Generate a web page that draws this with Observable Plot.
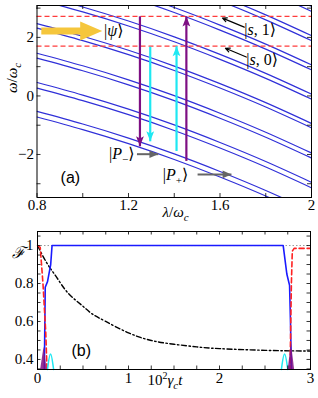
<!DOCTYPE html>
<html><head><meta charset="utf-8">
<script src="https://cdn.jsdelivr.net/npm/d3@7"></script>
<script src="https://cdn.jsdelivr.net/npm/@observablehq/plot@0.6"></script>
<style>
body{margin:0;background:#fff;}
#c{position:relative;width:318px;height:398px;overflow:hidden;}
#c svg{position:absolute;left:0;}
</style></head><body><div id="c"></div>
<script>
// ---------- Panel (a) data ----------
const lam = [0.8, 1.0, 1.2, 1.4, 1.6, 1.8, 2.0];
const upperLevels = [
  [-0.53, -0.96, -1.44, -1.98, -2.58, -3.23, -3.94],
  [0.46, 0.03, -0.45, -0.99, -1.59, -2.24, -2.95],
  [1.46, 1.03, 0.55, 0.01, -0.59, -1.24, -1.95],
  [2.47, 2.04, 1.56, 1.02, 0.42, -0.23, -0.94],
  [3.47, 3.04, 2.56, 2.02, 1.42, 0.77, 0.06],
  [4.47, 4.04, 3.56, 3.02, 2.42, 1.77, 1.06],
  [5.47, 5.04, 4.56, 4.02, 3.42, 2.77, 2.06],
  [6.47, 6.04, 5.56, 5.02, 4.42, 3.77, 3.06]
];
const lowerLevels = [
  [-0.72, -1.15, -1.63, -2.17, -2.77, -3.42, -4.13],
  [0.27, -0.16, -0.64, -1.18, -1.78, -2.43, -3.14],
  [1.29, 0.86, 0.38, -0.16, -0.76, -1.41, -2.12],
  [2.32, 1.89, 1.41, 0.87, 0.27, -0.38, -1.09],
  [3.30, 2.87, 2.39, 1.85, 1.25, 0.60, -0.11],
  [4.30, 3.87, 3.39, 2.85, 2.25, 1.60, 0.89],
  [5.30, 4.87, 4.39, 3.85, 3.25, 2.60, 1.89],
  [6.30, 5.87, 5.39, 4.85, 4.25, 3.60, 2.89]
];
const stateEnergies = [2.72, 1.70];          // |s,1>, |s,0>
const purpleArrows = [ {lam: 1.25, from: 2.72, to: -1.72}, {lam: 1.453, from: -2.22, to: 2.72} ];
const cyanArrows   = [ {lam: 1.295, from: 1.68, to: -1.55}, {lam: 1.41, from: -1.88, to: 1.70} ];
const grayArrows   = [ {from: 1.237, to: 1.33, E: -1.99}, {from: 1.502, to: 1.65, E: -2.68} ];
const blackArrows  = [ {x1: 1.706, y1: 2.35, x2: 1.611, y2: 2.66}, {x1: 1.715, y1: 1.33, x2: 1.624, y2: 1.63} ];
const yellowArrow  = [ {from: 0.88, to: 1.085, E: 2.22} ];
const kets = [
  {key: "§psi", lam: 1.093, E: 2.22, anchor: "start"},
  {key: "§s1", lam: 1.706, E: 2.25, anchor: "start"},
  {key: "§s0", lam: 1.715, E: 1.22, anchor: "start"},
  {key: "§pm", lam: 1.226, E: -1.99, anchor: "end"},
  {key: "§pp", lam: 1.35, E: -2.71, anchor: "start"}
];
const xTicksA = [0.8, 1.0, 1.2, 1.4, 1.6, 1.8, 2.0];
const xLabelsA = [0.8, 1.2, 1.6, 2];
const yTicksA = [-3, -2, -1, 0, 1, 2, 3];
const yLabelsA = [-2, 0, 2];

// ---------- Panel (b) data ----------
const tBlack = [0, 0.1, 0.2, 0.3, 0.4, 0.5, 0.6, 0.75, 1.0, 1.25, 1.5, 1.75, 2.0, 2.5, 3.0];
const fBlack = [1.0, 0.91, 0.84, 0.77, 0.72, 0.68, 0.64, 0.60, 0.54, 0.50, 0.48, 0.466, 0.457, 0.448, 0.444];
const tBlue = [0.075, 0.085, 0.11, 0.145, 0.16, 2.70, 2.74, 2.77, 2.78, 2.79];
const fBlue = [0.34, 0.78, 0.81, 0.90, 1.0, 1.0, 0.85, 0.79, 0.60, 0.34];
const tRedL = [0.0, 0.03, 0.06, 0.09, 0.105];
const fRedL = [1.0, 0.99, 0.80, 0.55, 0.34];
const tRedR = [2.775, 2.79, 2.80, 2.82, 3.0];
const fRedR = [0.34, 0.80, 0.97, 0.985, 0.985];
const tCyanL = [0.11, 0.143, 0.177], fCyanL = [0.347, 0.47, 0.347];
const tCyanR = [2.68, 2.715, 2.75],  fCyanR = [0.347, 0.47, 0.347];
const tPurL = [0.035, 0.072, 0.105], fPurL = [0.347, 0.465, 0.347];
const tPurR = [2.755, 2.79, 2.825],  fPurR = [0.347, 0.485, 0.347];
const xTicksB = d3.range(0, 3.001, 0.25);
const xLabelsB = [0, 1, 2, 3];
const yTicksB = d3.range(0.35, 1.0501, 0.05);
const yLabelsB = [0.4, 0.6, 0.8, 1];

// ---------- helpers ----------
const serif = "'Liberation Serif','DejaVu Serif',serif";
const fmt = d => String(d).replace("-", "\u2212");
const stealth = {draw(ctx, size){ const r = Math.sqrt(size/Math.PI); const L = 2.2*r, w = 0.85*r;
  ctx.moveTo(0,0); ctx.lineTo(-w, L); ctx.lineTo(0, 0.78*L); ctx.lineTo(w, L); ctx.closePath(); }};
const tri = {draw(ctx, size){ const r = Math.sqrt(size/Math.PI); const L = 2.2*r, w = 0.95*r;
  ctx.moveTo(0,0); ctx.lineTo(-w, L); ctx.lineTo(w, L); ctx.closePath(); }};
function frameTicks(xt, yt, fw, fh, len){
  return [
    Plot.tickX(xt, {x: d=>d, insetTop: fh-len, stroke:"#000", strokeWidth:0.8}),
    Plot.tickX(xt, {x: d=>d, insetBottom: fh-len, stroke:"#000", strokeWidth:0.8}),
    Plot.tickY(yt, {y: d=>d, insetRight: fw-len, stroke:"#000", strokeWidth:0.8}),
    Plot.tickY(yt, {y: d=>d, insetLeft: fw-len, stroke:"#000", strokeWidth:0.8}),
    Plot.frame({stroke:"#000", strokeWidth:1})
  ];
}
const rich = {
  "§psi": '|<tspan font-style="italic">ψ</tspan>⟩',
  "§s1": '|<tspan font-style="italic">s</tspan>, 1⟩',
  "§s0": '|<tspan font-style="italic">s</tspan>, 0⟩',
  "§pm": '|<tspan font-style="italic">P</tspan><tspan font-size="11" dy="4">−</tspan><tspan dy="-4">⟩</tspan>',
  "§pp": '|<tspan font-style="italic">P</tspan><tspan font-size="11" dy="4">+</tspan><tspan dy="-4">⟩</tspan>',
  "§xlab": '<tspan font-style="italic">λ</tspan>/<tspan font-style="italic">ω</tspan><tspan font-size="11" dy="4" font-style="italic">c</tspan>',
  "§ylab": '<tspan font-style="italic">ω</tspan>/<tspan font-style="italic">ω</tspan><tspan font-size="11" dy="4" font-style="italic">c</tspan>',
  "§tlab": '10<tspan font-size="10" dy="-6">2</tspan><tspan dy="6" font-style="italic">γ</tspan><tspan font-size="11" dy="4" font-style="italic">c</tspan><tspan dy="-4" font-style="italic">t</tspan>',
  "§F": '<tspan font-style="italic">ℱ</tspan>'
};
function enrich(svg){
  d3.select(svg).selectAll("text").each(function(){ const k = this.textContent; if (rich[k]) this.innerHTML = rich[k]; });
}

// ---------- Panel (a) ----------
const levelRows = [...upperLevels, ...lowerLevels].flatMap((vals, i) => vals.map((E, j) => ({lam: lam[j], E, id: i})));
const HA = 224, mA = {l: 36.5, r: 7, t: 5, b: 27};
const fwA = 318 - mA.l - mA.r, fhA = HA - mA.t - mA.b;
const plotA = Plot.plot({
  width: 318, height: HA, marginLeft: mA.l, marginRight: mA.r, marginTop: mA.t, marginBottom: mA.b,
  x: {domain: [0.8, 2.0], axis: null}, y: {domain: [-3.47, 3.09], axis: null},
  style: {fontFamily: serif, fontSize: "15px", background: "white", overflow: "visible"},
  marks: [
    Plot.line(levelRows, {x: "lam", y: "E", z: "id", stroke: "#3030d8", strokeWidth: 1.2, curve: "natural", clip: true}),
    Plot.ruleY(stateEnergies, {y: d=>d, stroke: "#ff3c3c", strokeWidth: 1.3, strokeDasharray: "5,3"}),
    // yellow arrow
    Plot.link(yellowArrow, {x1: "from", x2: "to", y1: "E", y2: "E", stroke: "#f5c63c", strokeWidth: 7, dx: -14}),
    Plot.dot(yellowArrow, {x: "to", y: "E", symbol: tri, r: 10, rotate: 90, fill: "#f5c63c", stroke: "none"}),
    // purple & cyan arrows
    Plot.link(purpleArrows, {x1: "lam", x2: "lam", y1: "from", y2: "to", stroke: "#7e0f83", strokeWidth: 2.2}),
    Plot.dot(purpleArrows, {x: "lam", y: "to", symbol: stealth, r: 4.6, rotate: d => d.to < d.from ? 180 : 0, fill: "#7e0f83", stroke: "none"}),
    Plot.link(cyanArrows, {x1: "lam", x2: "lam", y1: "from", y2: "to", stroke: "#1ee8f2", strokeWidth: 2.2}),
    Plot.dot(cyanArrows, {x: "lam", y: "to", symbol: stealth, r: 4.6, rotate: d => d.to < d.from ? 180 : 0, fill: "#1ee8f2", stroke: "none"}),
    // gray arrows
    Plot.link(grayArrows, {x1: "from", x2: "to", y1: "E", y2: "E", stroke: "#666", strokeWidth: 2}),
    Plot.dot(grayArrows, {x: "to", y: "E", symbol: tri, r: 4, rotate: 90, fill: "#666", stroke: "none"}),
    // black arrows
    Plot.arrow(blackArrows, {x1: "x1", y1: "y1", x2: "x2", y2: "y2", stroke: "#000", strokeWidth: 1.2, headLength: 6, headAngle: 50}),
    // kets
    Plot.text(kets.filter(k => k.anchor === "start"), {x: "lam", y: "E", text: "key", textAnchor: "start", fontSize: 16}),
    Plot.text(kets.filter(k => k.anchor === "end"), {x: "lam", y: "E", text: "key", textAnchor: "end", fontSize: 16}),
    Plot.text(["(a)"], {x: () => 0.946, y: () => -2.81, text: d => d, fontFamily: "'Liberation Sans',Arial,sans-serif", fontSize: 16}),
    ...frameTicks(xTicksA, yTicksA, fwA, fhA, 4),
    Plot.text(xLabelsA, {x: d=>d, text: fmt, frameAnchor: "bottom", dy: 12, fontSize: 15}),
    Plot.text(yLabelsA, {y: d=>d, text: fmt, frameAnchor: "left", textAnchor: "end", dx: -3, fontSize: 15}),
    Plot.text(["§xlab"], {x: () => 1.406, text: d=>d, frameAnchor: "bottom", dy: 19, fontSize: 15}),
    Plot.text(["§ylab"], {y: () => 0.1, text: d=>d, frameAnchor: "left", dx: -25, rotate: -90, fontSize: 15})
  ]
});
plotA.style.top = "0px";
enrich(plotA);
document.getElementById("c").appendChild(plotA);

// ---------- Panel (b) ----------
const pts = (ts, fs) => ts.map((t, i) => ({t, f: fs[i]}));
const HB = 174, mB = {l: 37, r: 8, t: 7, b: 29};
const fwB = 318 - mB.l - mB.r, fhB = HB - mB.t - mB.b;
const plotB = Plot.plot({
  width: 318, height: HB, marginLeft: mB.l, marginRight: mB.r, marginTop: mB.t, marginBottom: mB.b,
  x: {domain: [0, 3], axis: null}, y: {domain: [0.347, 1.074], axis: null},
  style: {fontFamily: serif, fontSize: "15px", background: "white", overflow: "visible"},
  marks: [
    Plot.ruleY([1], {y: d=>d, stroke: "#999", strokeWidth: 1, strokeDasharray: "1.5,2"}),
    Plot.line(pts(tBlack, fBlack), {x: "t", y: "f", stroke: "#000", strokeWidth: 1.4, strokeDasharray: "5,2.5,1.5,2.5", curve: "natural"}),
    Plot.line(pts(tBlue, fBlue), {x: "t", y: "f", stroke: "#1a1aff", strokeWidth: 1.6, clip: true}),
    Plot.line(pts(tRedL, fRedL), {x: "t", y: "f", stroke: "#ff2222", strokeWidth: 1.6, strokeDasharray: "5,3", clip: true}),
    Plot.line(pts(tRedR, fRedR), {x: "t", y: "f", stroke: "#ff2222", strokeWidth: 1.6, strokeDasharray: "5,3", clip: true}),
    Plot.line(pts(tCyanL, fCyanL), {x: "t", y: "f", stroke: "#1ee8f2", strokeWidth: 1.5, curve: "basis"}),
    Plot.line(pts(tCyanR, fCyanR), {x: "t", y: "f", stroke: "#1ee8f2", strokeWidth: 1.5, curve: "basis"}),
    Plot.areaY(pts(tPurL, fPurL), {x: "t", y1: 0.347, y2: "f", fill: "#7e0f83", fillOpacity: 0.85}),
    Plot.areaY(pts(tPurR, fPurR), {x: "t", y1: 0.347, y2: "f", fill: "#7e0f83", fillOpacity: 0.85}),
    Plot.text(["(b)"], {x: () => 0.48, y: () => 0.447, text: d => d, fontFamily: "'Liberation Sans',Arial,sans-serif", fontSize: 16}),
    ...frameTicks(xTicksB, yTicksB, fwB, fhB, 3.5),
    Plot.text(xLabelsB, {x: d=>d, text: fmt, frameAnchor: "bottom", dy: 13, fontSize: 15}),
    Plot.text(yLabelsB, {y: d=>d, text: fmt, frameAnchor: "left", textAnchor: "end", dx: -4, fontSize: 15}),
    Plot.text(["§tlab"], {x: () => 1.4, text: d=>d, frameAnchor: "bottom", dy: 15, fontSize: 15}),
    Plot.text(["§F"], {y: () => 0.96, text: d=>d, frameAnchor: "left", dx: -26, fontSize: 16})
  ]
});
plotB.style.top = "224px";
enrich(plotB);
document.getElementById("c").appendChild(plotB);
</script></body></html>
